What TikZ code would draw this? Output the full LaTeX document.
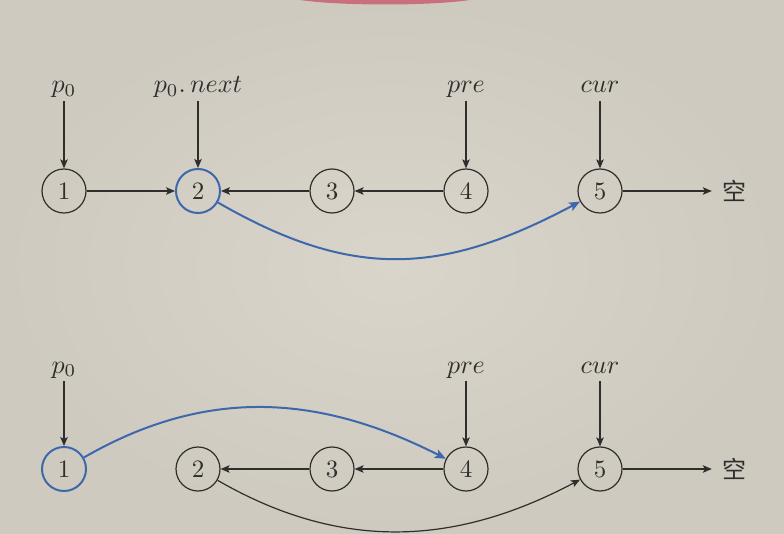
\documentclass[tikz,border=0pt]{standalone}
\usepackage{fontspec}
\newfontfamily\cjk{Noto Sans CJK SC}
\usetikzlibrary{arrows.meta}
\definecolor{bgc}{RGB}{218,213,202}
\definecolor{bgo}{RGB}{206,202,192}
\definecolor{ink}{RGB}{48,46,44}
\definecolor{blu}{RGB}{62,104,172}
\definecolor{pinkc}{RGB}{200,112,126}
\newcommand{\sbx}[1]{\scalebox{2.5}{#1}}
\newcommand{\slb}[1]{\scalebox{2.6}{#1}}
\begin{document}
\begin{tikzpicture}[x=1pt,y=1pt,
  every node/.style={font=\fontsize{10}{12}\selectfont, text=ink},
  nd/.style={circle, draw=ink, line width=1.2pt, minimum size=44pt, inner sep=0pt},
  bnd/.style={nd, draw=blu, line width=2pt},
  lbl/.style={anchor=base, inner sep=0pt, text depth=8pt},
  nul/.style={inner xsep=10pt, inner ysep=2pt, font=\cjk\fontsize{24}{28}\selectfont},
  arr/.style={draw=ink, line width=1.2pt, -{Stealth[length=9pt,width=7.5pt,inset=2pt]}},
  barr/.style={draw=blu, line width=2pt, -{Stealth[length=11pt,width=9pt,inset=2.5pt]}}]
\useasboundingbox (0,0) rectangle (784,533);
\shade[inner color=bgc, outer color=bgo] (0,0) rectangle (784,533);
\fill[pinkc] (300,533) .. controls (340,527) and (430,527) .. (470,533) -- cycle;

% top row
\node[nd]  (a1) at (64,342) {\sbx{1}};
\node[bnd] (a2) at (198,342) {\sbx{2}};
\node[nd]  (a3) at (332,342) {\sbx{3}};
\node[nd]  (a4) at (466,342) {\sbx{4}};
\node[nd]  (a5) at (600,342) {\sbx{5}};
\node[nul] (an) at (734,342) {空};
\node[lbl] (ap0) at (64,440) {\slb{$p_0$}};
\node[lbl] (apn) at (198,440) {\slb{$p_0.\,next$}};
\node[lbl] (apre) at (466,440) {\slb{$pre$}};
\node[lbl] (acur) at (600,440) {\slb{$cur$}};
\draw[arr] (ap0.south) -- (a1);
\draw[arr] (apn.south) -- (a2);
\draw[arr] (apre.south) -- (a4);
\draw[arr] (acur.south) -- (a5);
\draw[arr] (a1) -- (a2);
\draw[arr] (a3) -- (a2);
\draw[arr] (a4) -- (a3);
\draw[arr] (a5) -- (an);
\draw[barr] (a2) to[out=-30,in=-152,looseness=1.1] (a5);

% bottom row
\node[bnd] (b1) at (64,64) {\sbx{1}};
\node[nd]  (b2) at (198,64) {\sbx{2}};
\node[nd]  (b3) at (332,64) {\sbx{3}};
\node[nd]  (b4) at (466,64) {\sbx{4}};
\node[nd]  (b5) at (600,64) {\sbx{5}};
\node[nul] (bn) at (734,64) {空};
\node[lbl] (bp0) at (64,160) {\slb{$p_0$}};
\node[lbl] (bpre) at (466,160) {\slb{$pre$}};
\node[lbl] (bcur) at (600,160) {\slb{$cur$}};
\draw[arr] (bp0.south) -- (b1);
\draw[arr] (bpre.south) -- (b4);
\draw[arr] (bcur.south) -- (b5);
\draw[arr] (b3) -- (b2);
\draw[arr] (b4) -- (b3);
\draw[arr] (b5) -- (bn);
\draw[barr] (b1) to[out=30,in=153] (b4);
\draw[arr] (b2) to[out=-30,in=-152] (b5);
\end{tikzpicture}
\end{document}
